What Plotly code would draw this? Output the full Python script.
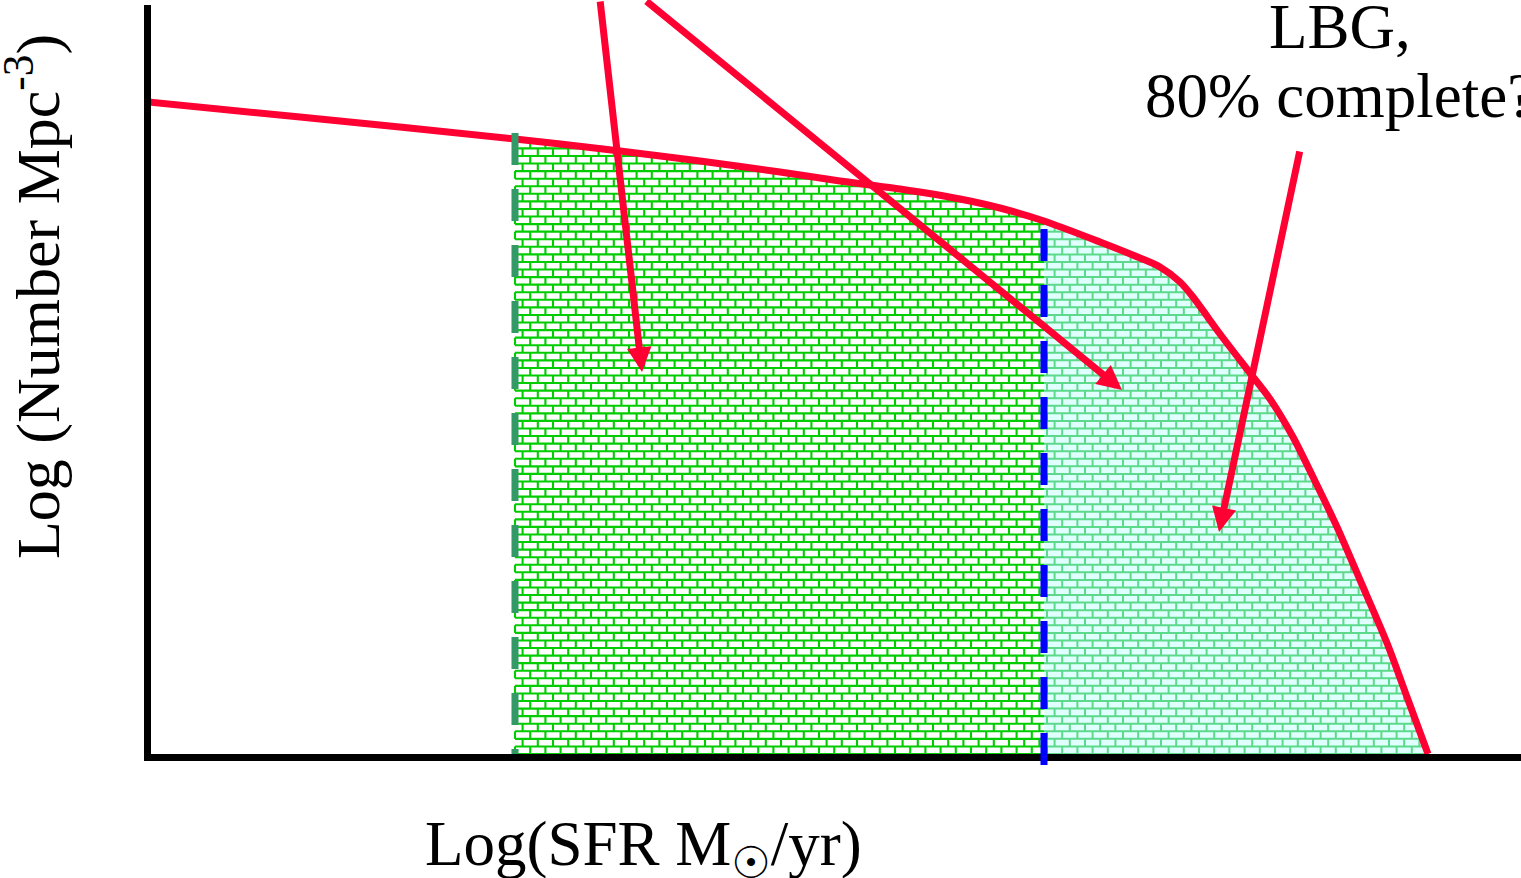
import numpy as np
import plotly.graph_objects as go

# Schematic star-formation-rate distribution (arbitrary log units)
sfr_x = [-0.03, 1.49, 3.64, 4.69, 5.49, 6.29, 6.89, 7.49, 8.09, 8.49, 8.93,
         9.49, 9.89, 10.09, 10.29, 10.42, 10.69, 10.99, 11.19, 11.42, 11.62,
         11.86, 12.09, 12.36, 12.56, 12.77]
density_y = [6.52, 6.37, 6.15, 6.03, 5.93, 5.82, 5.73, 5.65, 5.55, 5.46, 5.33,
             5.12, 4.96, 4.87, 4.72, 4.57, 4.20, 3.81, 3.55, 3.17, 2.77,
             2.27, 1.74, 1.11, 0.57, 0.00]

# Survey limits along the SFR axis
limit_x = [3.64, 8.93]
limit_colors = ["#339966", "#0000ff"]

# Pointer arrows (tail -> head)
arrow_tail_x = [4.49, 4.94, 11.49]
arrow_tail_y = [7.54, 7.54, 6.04]
arrow_head_x = [4.91, 9.71, 10.68]
arrow_head_y = [3.82, 3.64, 2.22]

label_lines = ["LBG,", "80% complete?"]
x_title = ("Log(SFR M<sub><span style=\"font-family:DejaVu Sans\">☉</span>"
           "</sub>/yr)")
y_title = "Log (Number Mpc<sup>-3</sup>)"

RED = "#ff0033"
cx = np.array(sfr_x)
cy = np.array(density_y)


def curve_at(x):
    return np.interp(x, cx, cy)


def x_at_height(h):
    return np.interp(h, cy[::-1], cx[::-1])


def brick_texture(x_lo, x_hi, origin, bw=0.152, bh=0.0757):
    """Brick hatching under the curve between x_lo and x_hi."""
    xs, ys = [], []
    n_rows = int(np.ceil(cy.max() / bh)) + 1
    for k in range(n_rows):
        h0 = k * bh
        h1 = h0 + bh
        x_end = min(x_hi, float(x_at_height(h0)))
        if x_end > x_lo:
            xs += [x_lo, x_end, None]
            ys += [h0, h0, None]
        off = 0.0 if k % 2 == 0 else bw / 2
        j0 = int(np.floor((x_lo - origin - off) / bw))
        j1 = int(np.ceil((x_hi - origin - off) / bw))
        for j in range(j0, j1 + 1):
            xv = origin + off + j * bw
            if xv < x_lo or xv > x_hi:
                continue
            top = min(h1, float(curve_at(xv)))
            if top > h0:
                xs += [xv, xv, None]
                ys += [h0, top, None]
    return xs, ys


fig = go.Figure()

# light fill of the LBG part
mask = cx > limit_x[1]
fx = [limit_x[1]] + list(cx[mask])
fy = [float(curve_at(limit_x[1]))] + list(cy[mask])
fig.add_trace(go.Scatter(x=fx, y=fy, mode="lines", fill="tozeroy",
                         fillcolor="#e0ffff", line=dict(width=0, shape="spline",
                                                        smoothing=0.8),
                         hoverinfo="skip", showlegend=False))

bx2, by2 = brick_texture(limit_x[1], float(cx[-1]), limit_x[0])
fig.add_trace(go.Scatter(x=bx2, y=by2, mode="lines",
                         line=dict(color="#5cd98a", width=2.0),
                         hoverinfo="skip", showlegend=False))

bx1, by1 = brick_texture(limit_x[0], limit_x[1], limit_x[0])
fig.add_trace(go.Scatter(x=bx1, y=by1, mode="lines",
                         line=dict(color="#00cc00", width=2.1),
                         hoverinfo="skip", showlegend=False))

# distribution curve
fig.add_trace(go.Scatter(x=sfr_x, y=density_y, mode="lines",
                         line=dict(color=RED, width=7, shape="spline",
                                   smoothing=0.8),
                         hoverinfo="skip", showlegend=False))

# dashed survey limits
PLOT_H = 749
limit_top = [float(curve_at(limit_x[0])) + 0.06, float(curve_at(limit_x[1])) - 0.08]
limit_bottom = [0.0, -0.11]
for xl, top, bot, col in zip(limit_x, limit_top, limit_bottom, limit_colors):
    fig.add_shape(type="line", xref="x", yref="paper",
                  x0=xl, x1=xl, y0=top * 100 / PLOT_H, y1=bot * 100 / PLOT_H,
                  line=dict(color=col, width=7, dash="32px,24px"),
                  layer="above")

annotations = []
for tx, ty, hx, hy in zip(arrow_tail_x, arrow_tail_y, arrow_head_x, arrow_head_y):
    annotations.append(dict(x=hx, y=hy, ax=tx, ay=ty, xref="x", yref="y",
                            axref="x", ayref="y", text="", showarrow=True,
                            arrowhead=2, arrowsize=0.7, arrowwidth=7,
                            arrowcolor=RED, standoff=0))


def paper(px, py):
    return (px - 151) / 1370, (754 - py) / 749


serif = "Liberation Serif, Times New Roman, serif"
for line, py in zip(label_lines, [27, 96]):
    px_, py_ = paper(1340, py)
    annotations.append(dict(x=px_, y=py_, xref="paper", yref="paper",
                            text=line, showarrow=False, xanchor="center",
                            yanchor="middle",
                            font=dict(family=serif, size=63, color="black")))

px_, py_ = paper(643, 848)
annotations.append(dict(x=px_, y=py_, xref="paper", yref="paper", text=x_title,
                        showarrow=False, xanchor="center", yanchor="middle",
                        font=dict(family=serif, size=63, color="black")))
px_, py_ = paper(33, 297)
annotations.append(dict(x=px_, y=py_, xref="paper", yref="paper", text=y_title,
                        showarrow=False, xanchor="center", yanchor="middle",
                        textangle=-90,
                        font=dict(family=serif, size=62, color="black")))

axis_style = dict(showline=True, linecolor="black", linewidth=7,
                  showticklabels=False, ticks="", showgrid=False,
                  zeroline=False, fixedrange=True)
fig.update_layout(
    width=1521, height=878, autosize=False,
    margin=dict(l=151, r=0, t=5, b=124, pad=0),
    paper_bgcolor="white", plot_bgcolor="white",
    xaxis=dict(range=[0, 13.70], **axis_style),
    yaxis=dict(range=[0, 7.49], **axis_style),
    annotations=annotations, hovermode=False,
)

fig.write_html("out.html")
